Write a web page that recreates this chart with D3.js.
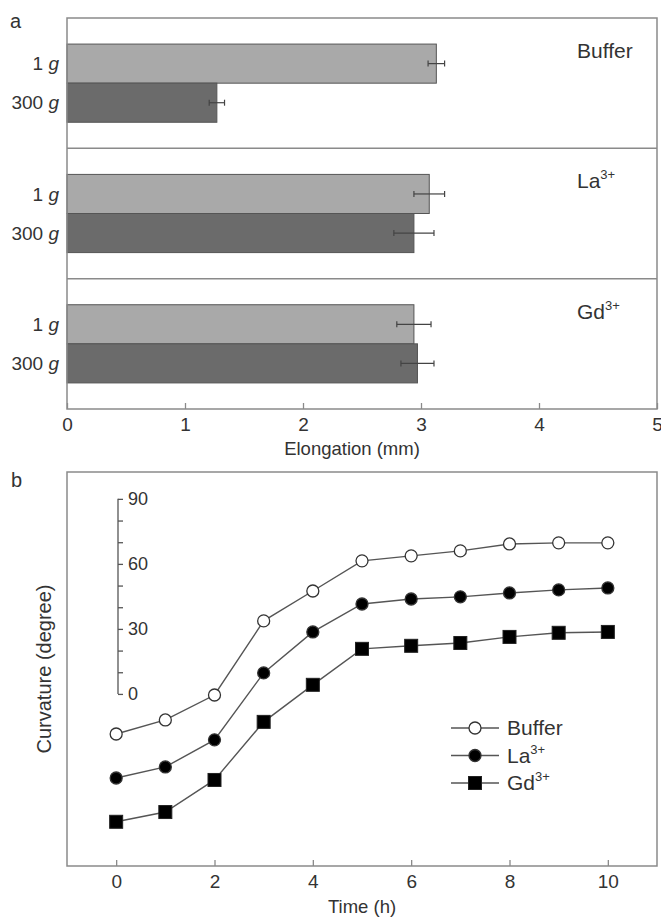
<!DOCTYPE html>
<html>
<head>
<meta charset="utf-8">
<script src="https://cdn.jsdelivr.net/npm/d3@7"></script>
<style>
  body { margin: 0; background: #fff; }
  svg { font-family: "Liberation Sans", Arial, sans-serif; fill: #333; }
</style>
</head>
<body>
<svg id="chart" width="661" height="918"></svg>
<script>
// panel a data
const treatments = ["Buffer", "La", "Gd"];
const treatmentSup = ["", "3+", "3+"];
const gravity = ["1", "300"];
const elong1g = [3.13, 3.07, 2.94];
const elong300g = [1.27, 2.94, 2.97];
const err1g = [0.07, 0.13, 0.145];
const err300g = [0.065, 0.17, 0.14];
const elongTicks = [0, 1, 2, 3, 4, 5];

// panel b data
const time = [0, 1, 2, 3, 4, 5, 6, 7, 8, 9, 10];
const curvBuffer = [-18.5, -12, -0.5, 33.7, 47.5, 61.4, 63.7, 66, 69.2, 69.7, 69.7];
const curvLa = [-38.8, -33.7, -21.2, 9.7, 28.6, 41.5, 43.8, 44.8, 46.6, 48, 48.9];
const curvGd = [-59, -54.5, -39.7, -12.9, 4.2, 20.8, 22.2, 23.5, 26.3, 28.2, 28.6];
const timeTicks = [0, 2, 4, 6, 8, 10];
const curvTicks = [0, 30, 60, 90];

const svg = d3.select("#chart");
const frameColor = "#8a8a8a";
const left = 67, right = 657;
const fontFamily = "'Liberation Sans', Arial, sans-serif";

// ---------- panel a ----------
const aTop = 18, aBottom = 409;
const x = d3.scaleLinear().domain([0, 5]).range([left, right]);
const panelY = d3.scaleBand().domain(treatments).range([aTop, aBottom]);
const barY = d3.scaleBand().domain(gravity)
  .range([0, panelY.bandwidth()]).paddingInner(0).paddingOuter(0.667);

const rows = treatments.map((t, i) => ({
  t, i, vals: [elong1g[i], elong300g[i]], errs: [err1g[i], err300g[i]]
}));

const panel = svg.selectAll(".panel").data(rows).enter()
  .append("g")
  .attr("class", "panel")
  .attr("transform", d => `translate(0,${panelY(d.t)})`);

panel.each(function (d) {
  const g = d3.select(this);
  gravity.forEach((gr, j) => {
    g.append("rect")
      .attr("x", x(0))
      .attr("y", barY(gr))
      .attr("width", x(d.vals[j]) - x(0))
      .attr("height", barY.bandwidth())
      .style("fill", j === 0 ? "#a9a9a9" : "#6b6b6b")
      .style("stroke", "#555")
      .style("stroke-width", 1);

    // error bar
    const cy = barY(gr) + barY.bandwidth() / 2;
    const x1 = x(d.vals[j] - d.errs[j]), x2 = x(d.vals[j] + d.errs[j]);
    g.append("line").attr("x1", x1).attr("x2", x2).attr("y1", cy).attr("y2", cy)
      .attr("stroke", "#444").attr("stroke-width", 1.2);
    [x1, x2].forEach(xx => {
      g.append("line").attr("x1", xx).attr("x2", xx).attr("y1", cy - 3).attr("y2", cy + 3)
        .attr("stroke", "#444").attr("stroke-width", 1.2);
    });

    // category label
    const lab = g.append("text")
      .attr("x", left - 8)
      .attr("y", cy)
      .attr("dy", "0.35em")
      .attr("text-anchor", "end")
      .style("font-size", "19px");
    lab.append("tspan").text(gr + " ");
    lab.append("tspan").style("font-style", "italic").text("g");
  });

  const tl = g.append("text")
    .attr("x", 577)
    .attr("y", 40)
    .style("font-size", "21px")
    .text(d.t);
  if (treatmentSup[d.i]) {
    tl.append("tspan").attr("dy", -9).style("font-size", "13px").text(treatmentSup[d.i]);
  }
});

// frame of panel a
svg.append("rect")
  .attr("x", left).attr("y", aTop)
  .attr("width", right - left).attr("height", aBottom - aTop)
  .style("fill", "none").style("stroke", frameColor).style("stroke-width", 1.5);
treatments.slice(1).forEach(t => {
  svg.append("line")
    .attr("x1", left).attr("x2", right)
    .attr("y1", panelY(t)).attr("y2", panelY(t))
    .attr("stroke", frameColor).attr("stroke-width", 1.5);
});

// x axis of panel a
const xAxisA = svg.append("g")
  .attr("transform", `translate(0,${aBottom})`)
  .call(d3.axisBottom(x).tickValues(elongTicks).tickSize(-6).tickPadding(9).tickFormat(d3.format("d")));
xAxisA.select(".domain").remove();
xAxisA.selectAll("line").attr("stroke", frameColor).attr("stroke-width", 1.3);
xAxisA.selectAll("text").style("font-size", "19px").attr("fill", "#333")
  .style("font-family", fontFamily);

svg.append("text")
  .attr("x", 352).attr("y", 455)
  .attr("text-anchor", "middle").style("font-size", "18.5px")
  .text("Elongation (mm)");

svg.append("text").attr("x", 10).attr("y", 28).style("font-size", "20px").text("a");

// ---------- panel b ----------
const bTop = 472, bBottom = 866;
const xb = d3.scaleLinear().domain([-1, 11]).range([left, right]);
const yb = d3.scaleLinear().domain([-79.4, 102.4]).range([bBottom, bTop]);

svg.append("rect")
  .attr("x", left).attr("y", bTop)
  .attr("width", right - left).attr("height", bBottom - bTop)
  .style("fill", "none").style("stroke", frameColor).style("stroke-width", 1.5);

const xAxisB = svg.append("g")
  .attr("transform", `translate(0,${bBottom})`)
  .call(d3.axisBottom(xb).tickValues(timeTicks).tickSize(-6).tickPadding(9));
xAxisB.select(".domain").remove();
xAxisB.selectAll("line").attr("stroke", frameColor).attr("stroke-width", 1.3);
xAxisB.selectAll("text").style("font-size", "19px").attr("fill", "#333")
  .style("font-family", fontFamily);

svg.append("text")
  .attr("x", (left + right) / 2).attr("y", 913)
  .attr("text-anchor", "middle").style("font-size", "18.5px")
  .text("Time (h)");

svg.append("text")
  .attr("transform", `translate(51,${(bTop + bBottom) / 2}) rotate(-90)`)
  .attr("text-anchor", "middle").style("font-size", "20px")
  .text("Curvature (degree)");

svg.append("text").attr("x", 11).attr("y", 487).style("font-size", "20px").text("b");

// inner degree axis
const yInner = d3.scaleLinear().domain([0, 90]).range([yb(0), yb(90)]);
const innerAxis = svg.append("g")
  .attr("transform", "translate(118,0)")
  .call(d3.axisRight(yInner).tickValues(d3.range(0, 91, 10)).tickSize(5).tickPadding(5)
    .tickFormat(d => curvTicks.includes(d) ? d : ""));
innerAxis.select(".domain").attr("d", `M0,${yb(0)}V${yb(90)}`).attr("stroke", "#555").attr("stroke-width", 1.3);
innerAxis.selectAll("line").attr("stroke", "#555").attr("stroke-width", 1.3);
innerAxis.selectAll("text").style("font-size", "18px").attr("fill", "#333")
  .style("font-family", fontFamily);

const series = [
  { name: "Buffer", sup: "", vals: curvBuffer, shape: "circle", fill: "#fff" },
  { name: "La", sup: "3+", vals: curvLa, shape: "circle", fill: "#000" },
  { name: "Gd", sup: "3+", vals: curvGd, shape: "square", fill: "#000" }
];

const line = d3.line().x(d => xb(d[0])).y(d => yb(d[1]));

function drawMarker(g, shape, fill, cx, cy) {
  if (shape === "circle") {
    g.append("circle").attr("cx", cx).attr("cy", cy).attr("r", 6)
      .style("fill", fill).style("stroke", "#333").style("stroke-width", 1.3);
  } else {
    g.append("rect").attr("x", cx - 6.5).attr("y", cy - 6.5).attr("width", 13).attr("height", 13)
      .style("fill", fill).style("stroke", "#222").style("stroke-width", 1);
  }
}

series.forEach(s => {
  const pts = time.map((t, i) => [t, s.vals[i]]);
  svg.append("path").datum(pts).attr("d", line)
    .style("fill", "none").style("stroke", "#555").style("stroke-width", 1.4);
  const g = svg.append("g");
  pts.forEach(p => drawMarker(g, s.shape, s.fill, xb(p[0]), yb(p[1])));
});

// legend
const legY = d3.scalePoint().domain(series.map(s => s.name)).range([728, 783]);
series.forEach(s => {
  const ly = legY(s.name);
  svg.append("line").attr("x1", 451).attr("x2", 499).attr("y1", ly).attr("y2", ly)
    .attr("stroke", "#555").attr("stroke-width", 1.4);
  drawMarker(svg, s.shape, s.fill, 475, ly);
  const t = svg.append("text").attr("x", 507).attr("y", ly + 7).style("font-size", "21px").text(s.name);
  if (s.sup) t.append("tspan").attr("dy", -9).style("font-size", "13px").text(s.sup);
});
</script>
</body>
</html>
